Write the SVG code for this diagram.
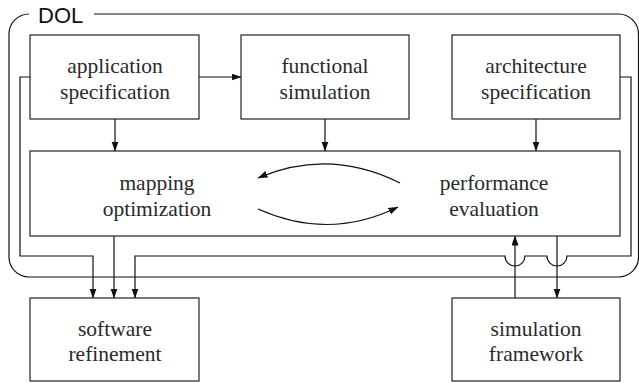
<svg xmlns="http://www.w3.org/2000/svg" width="639" height="383" viewBox="0 0 639 383">
  <style>
    .box { fill: #fff; stroke: #222; stroke-width: 1.2; }
    .wire { fill: none; stroke: #111; stroke-width: 1.2; }
    .lbl { font-family: 'Liberation Serif', 'Times New Roman', serif; font-size: 21.5px; fill: #2a2a2a; text-anchor: middle; }
    .title { font-family: 'Liberation Sans', Arial, sans-serif; font-size: 22px; fill: #111; }
  </style>
  <defs>
    <marker id="arrow" markerUnits="userSpaceOnUse" markerWidth="10" markerHeight="8" refX="9.5" refY="3.5" orient="auto">
      <path d="M0,0 L10,3.5 L0,7 z" fill="#111"/>
    </marker>
  </defs>

  <!-- DOL frame with a gap in the top edge for its title -->
  <g id="frame">
    <path class="wire" d="M94,14 H618.5 A20,20 0 0 1 638.5,34 V257 A20,20 0 0 1 618.5,277 H29 A20,20 0 0 1 9,257 V34 A20,20 0 0 1 29,14"/>
    <text class="title" x="38" y="22.7">DOL</text>
  </g>

  <!-- connectors -->
  <g id="connectors">
    <line class="wire" x1="199" y1="77" x2="241" y2="77" marker-end="url(#arrow)"/>
    <line class="wire" x1="115" y1="119" x2="115" y2="151" marker-end="url(#arrow)"/>
    <line class="wire" x1="325" y1="119" x2="325" y2="151" marker-end="url(#arrow)"/>
    <line class="wire" x1="536" y1="119" x2="536" y2="151" marker-end="url(#arrow)"/>
    <path class="wire" d="M30,77 H20 V256 H93 V298" marker-end="url(#arrow)"/>
    <line class="wire" x1="114" y1="236" x2="114" y2="298" marker-end="url(#arrow)"/>
    <!-- architecture spec to software refinement, hopping over the two vertical links -->
    <path class="wire" d="M620,77 H631 V256 H567 A10,10 0 0 1 547,256 H525 A10,10 0 0 1 505,256 H135 V298" marker-end="url(#arrow)"/>
    <line class="wire" x1="515" y1="298" x2="515" y2="236" marker-end="url(#arrow)"/>
    <line class="wire" x1="557" y1="236" x2="557" y2="298" marker-end="url(#arrow)"/>
    <!-- iteration loop between mapping and evaluation -->
    <path class="wire" d="M400,183 Q329,147.5 258,178" marker-end="url(#arrow)"/>
    <path class="wire" d="M258,209 Q329,241 398,207" marker-end="url(#arrow)"/>
  </g>

  <g id="app-spec">
    <rect class="box" x="30" y="35" width="169" height="84"/>
    <text class="lbl" x="115" y="72.5">application</text>
    <text class="lbl" x="115" y="98.5">specification</text>
  </g>
  <g id="func-sim">
    <rect class="box" x="241" y="35" width="168" height="84"/>
    <text class="lbl" x="325" y="72.5">functional</text>
    <text class="lbl" x="325" y="98.5">simulation</text>
  </g>
  <g id="arch-spec">
    <rect class="box" x="452" y="35" width="168" height="84"/>
    <text class="lbl" x="536" y="72.5">architecture</text>
    <text class="lbl" x="536" y="98.5">specification</text>
  </g>
  <g id="mapping">
    <rect class="box" x="30" y="151" width="590" height="85" style="fill:none"/>
    <text class="lbl" x="157" y="190">mapping</text>
    <text class="lbl" x="157" y="216">optimization</text>
    <text class="lbl" x="494" y="190">performance</text>
    <text class="lbl" x="494" y="216">evaluation</text>
  </g>
  <g id="sw-refine">
    <rect class="box" x="30" y="298" width="169" height="83"/>
    <text class="lbl" x="115" y="336">software</text>
    <text class="lbl" x="115" y="361">refinement</text>
  </g>
  <g id="sim-framework">
    <rect class="box" x="452" y="298" width="168" height="83"/>
    <text class="lbl" x="536" y="336">simulation</text>
    <text class="lbl" x="536" y="361">framework</text>
  </g>
</svg>
